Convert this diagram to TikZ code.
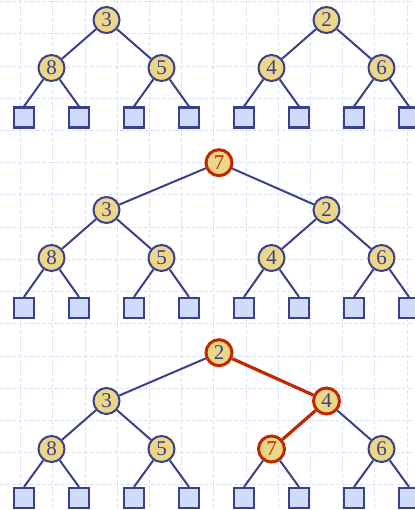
\documentclass[tikz,border=0pt]{standalone}
\usepackage{fontspec}
\setmainfont{Liberation Serif}
\definecolor{navy}{RGB}{58,64,140}
\definecolor{nodefill}{RGB}{236,214,136}
\definecolor{leaffill}{RGB}{206,220,250}
\definecolor{hotred}{RGB}{192,40,0}
\definecolor{gridcol}{RGB}{218,227,250}
\tikzset{
  gridline/.style={draw=gridcol, line width=1pt, dash pattern=on 4pt off 2pt},
  inode/.style={circle, draw=navy, line width=2pt, fill=nodefill, minimum size=26pt, inner sep=0pt, text=navy, font=\fontsize{21}{21}\selectfont},
  hotnode/.style={inode, draw=hotred, line width=3pt},
  hottext/.style={text=hotred},
  leafbox/.style={rectangle, draw=navy, line width=2.2pt, fill=leaffill, minimum size=20pt, inner sep=0pt},
  edge/.style={draw=navy, line width=2pt},
  hotedge/.style={draw=hotred, line width=3.2pt},
}
\begin{document}
\begin{tikzpicture}[x=1pt,y=-1pt]
\useasboundingbox (0,0) rectangle (414,510);
\fill[white] (0,0) rectangle (414,510);
% background grid
\foreach \k in {0,...,12} \draw[gridline] (20.7+32.2*\k,0) -- (20.7+32.2*\k,510);
\foreach \k in {0,...,15} \draw[gridline] (0,1.8+32.2*\k) -- (414,1.8+32.2*\k);

% ---------- top left tree ----------
\node[inode] (a3) at (106.5,20) {3};
\node[inode] (a8) at (51.5,68) {8};
\node[inode] (a5) at (161.5,68) {5};
\foreach \i/\x in {1/24,2/79,3/134,4/189} \node[leafbox] (al\i) at (\x,117.5) {};
\draw[edge] (a3) -- (a8); \draw[edge] (a3) -- (a5);
\draw[edge] (a8) -- (al1.north); \draw[edge] (a8) -- (al2.north);
\draw[edge] (a5) -- (al3.north); \draw[edge] (a5) -- (al4.north);

% ---------- top right tree ----------
\node[inode] (b2) at (326.5,20) {2};
\node[inode] (b4) at (271.5,68) {4};
\node[inode] (b6) at (381.5,68) {6};
\foreach \i/\x in {1/244,2/299,3/354,4/409} \node[leafbox] (bl\i) at (\x,117.5) {};
\draw[edge] (b2) -- (b4); \draw[edge] (b2) -- (b6);
\draw[edge] (b4) -- (bl1.north); \draw[edge] (b4) -- (bl2.north);
\draw[edge] (b6) -- (bl3.north); \draw[edge] (b6) -- (bl4.north);

% ---------- middle tree ----------
\node[hotnode, hottext] (m7) at (219,162.7) {7};
\node[inode] (m3) at (106.5,210) {3};
\node[inode] (m2) at (326.5,210) {2};
\node[inode] (m8) at (51.5,258) {8};
\node[inode] (m5) at (161.5,258) {5};
\node[inode] (m4) at (271.5,258) {4};
\node[inode] (m6) at (381.5,258) {6};
\foreach \i/\x in {1/24,2/79,3/134,4/189,5/244,6/299,7/354,8/409} \node[leafbox] (ml\i) at (\x,308) {};
\draw[edge] (m7) -- (m3); \draw[edge] (m7) -- (m2);
\draw[edge] (m3) -- (m8); \draw[edge] (m3) -- (m5);
\draw[edge] (m2) -- (m4); \draw[edge] (m2) -- (m6);
\draw[edge] (m8) -- (ml1.north); \draw[edge] (m8) -- (ml2.north);
\draw[edge] (m5) -- (ml3.north); \draw[edge] (m5) -- (ml4.north);
\draw[edge] (m4) -- (ml5.north); \draw[edge] (m4) -- (ml6.north);
\draw[edge] (m6) -- (ml7.north); \draw[edge] (m6) -- (ml8.north);

% ---------- bottom tree ----------
\node[hotnode] (n2) at (219,352.7) {2};
\node[inode] (n3) at (106.5,401) {3};
\node[hotnode] (n4) at (326.5,401) {4};
\node[inode] (n8) at (51.5,449) {8};
\node[inode] (n5) at (161.5,449) {5};
\node[hotnode, hottext] (n7) at (271.5,449) {7};
\node[inode] (n6) at (381.5,449) {6};
\foreach \i/\x in {1/24,2/79,3/134,4/189,5/244,6/299,7/354,8/409} \node[leafbox] (nl\i) at (\x,498) {};
\draw[edge] (n2) -- (n3); \draw[hotedge] (n2) -- (n4);
\draw[edge] (n3) -- (n8); \draw[edge] (n3) -- (n5);
\draw[hotedge] (n4) -- (n7); \draw[edge] (n4) -- (n6);
\draw[edge] (n8) -- (nl1.north); \draw[edge] (n8) -- (nl2.north);
\draw[edge] (n5) -- (nl3.north); \draw[edge] (n5) -- (nl4.north);
\draw[edge] (n7) -- (nl5.north); \draw[edge] (n7) -- (nl6.north);
\draw[edge] (n6) -- (nl7.north); \draw[edge] (n6) -- (nl8.north);
\end{tikzpicture}
\end{document}
